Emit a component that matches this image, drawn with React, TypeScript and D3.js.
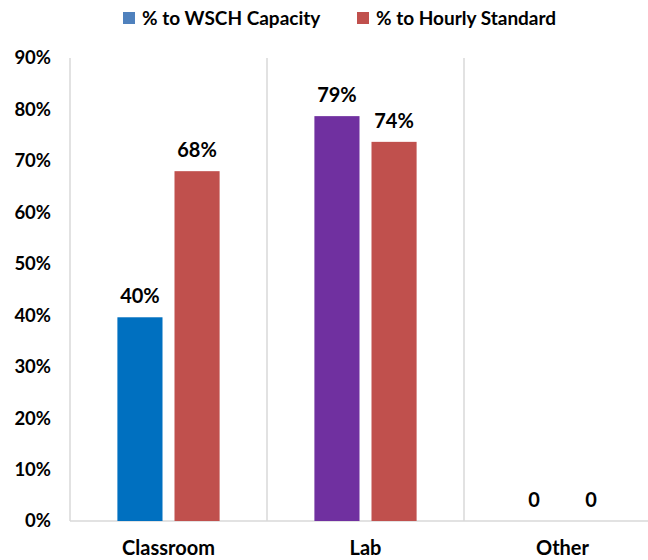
import React from "react";
import * as d3 from "d3";

const categories = ["Classroom", "Lab", "Other"];
const series = ["% to WSCH Capacity", "% to Hourly Standard"];
const wschValues = [0.396, 0.787, 0];
const hourlyValues = [0.68, 0.737, 0];
const yTicks = [0, 0.1, 0.2, 0.3, 0.4, 0.5, 0.6, 0.7, 0.8, 0.9];

const WIDTH = 648;
const HEIGHT = 560;
const FONT = "Lato, 'Open Sans', sans-serif";

// bar colours per category (the Lab capacity bar is purple in the original)
const wschBarColors = ["#0070C0", "#7030A0", "#0070C0"];
const hourlyColor = "#C0504D";
const legendColors = ["#4F81BD", "#C0504D"];

const App: React.FC = () => {
  const x = d3.scaleBand().domain(categories).range([70, 661]).padding(0);
  const xSub = d3
    .scaleBand()
    .domain(series)
    .range([0, x.bandwidth()])
    .paddingInner(0.21)
    .paddingOuter(0.83);
  const y = d3.scaleLinear().domain([0, 0.9]).range([521, 58]);

  const pct = d3.format(".0%");
  const label = (v: number) => (v === 0 ? "0" : pct(v));

  const rows = categories.map((c, i) => ({
    category: c,
    values: [
      { key: series[0], value: wschValues[i], color: wschBarColors[i] },
      { key: series[1], value: hourlyValues[i], color: hourlyColor },
    ],
  }));

  const legendX = [123, 357];

  return (
    <svg
      width={WIDTH}
      height={HEIGHT}
      style={{ position: "absolute", left: 0, top: 0, background: "#fff" }}
      fontFamily={FONT}
    >
      {/* legend */}
      {series.map((s, i) => (
        <g key={s} transform={`translate(${legendX[i]}, 12)`}>
          <rect width={12} height={12} fill={legendColors[i]} />
          <text x={19} y={13} fontSize={19} fontWeight="bold" fill="#000">
            {s}
          </text>
        </g>
      ))}

      {/* category separators */}
      {categories.map((c) => (
        <line
          key={c}
          x1={x(c)}
          x2={x(c)}
          y1={y(0.9)}
          y2={y(0)}
          stroke="#d9d9d9"
          strokeWidth={1.5}
        />
      ))}
      <line x1={x(categories[0])} x2={WIDTH} y1={y(0)} y2={y(0)} stroke="#d9d9d9" strokeWidth={1.5} />

      {/* y axis labels */}
      {yTicks.map((t) => (
        <text
          key={t}
          x={51}
          y={y(t)}
          dy="0.35em"
          textAnchor="end"
          fontSize={18.5}
          fontWeight="bold"
          fill="#000"
        >
          {pct(t)}
        </text>
      ))}

      {/* bars */}
      {rows.map((r) => (
        <g key={r.category} transform={`translate(${x(r.category)}, 0)`}>
          {r.values.map((d) => (
            <g key={d.key}>
              {d.value > 0 && (
                <rect
                  x={xSub(d.key)}
                  y={y(d.value)}
                  width={xSub.bandwidth()}
                  height={y(0) - y(d.value)}
                  fill={d.color}
                />
              )}
              <text
                x={(xSub(d.key) ?? 0) + xSub.bandwidth() / 2}
                y={y(d.value) - 14}
                textAnchor="middle"
                fontSize={20}
                fontWeight="bold"
                fill="#000"
              >
                {label(d.value)}
              </text>
            </g>
          ))}
        </g>
      ))}

      {/* category labels */}
      {categories.map((c) => (
        <text
          key={c}
          x={(x(c) ?? 0) + x.bandwidth() / 2}
          y={555}
          textAnchor="middle"
          fontSize={20}
          fontWeight="bold"
          fill="#000"
        >
          {c}
        </text>
      ))}
    </svg>
  );
};

export default App;
